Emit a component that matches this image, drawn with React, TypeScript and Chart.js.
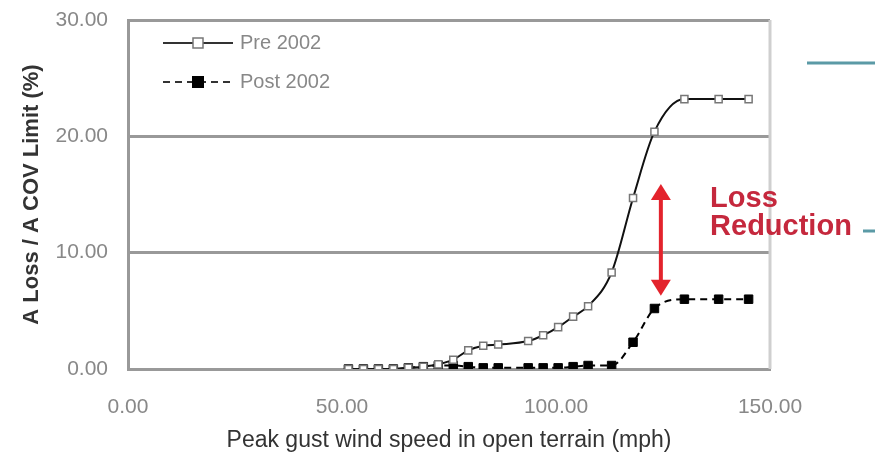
import React, { useEffect, useRef } from "react";
import { Chart, registerables } from "chart.js";

Chart.register(...registerables);

// Peak gust wind speed (mph)
const windSpeeds = [51.5, 55, 58.5, 62, 65.5, 69, 72.5, 76, 79.5, 83, 86.5, 93.5, 97, 100.5, 104, 107.5, 113, 118, 123, 130, 138, 145];
// Δ Loss / Δ COV Limit (%)
const pre2002 = [0, 0, 0, 0, 0.1, 0.2, 0.4, 0.8, 1.6, 2.0, 2.1, 2.4, 2.9, 3.6, 4.5, 5.4, 8.3, 14.7, 20.4, 23.2, 23.2, 23.2];
const post2002 = [0, 0, 0, 0, 0.1, 0.2, 0.3, 0.3, 0.2, 0.1, 0.1, 0.1, 0.1, 0.1, 0.2, 0.3, 0.3, 2.3, 5.2, 6.0, 6.0, 6.0];

const xTicks = [0, 50, 100, 150];
const yTicks = [0, 10, 20, 30];
const seriesNames = ["Pre 2002", "Post 2002"];
const xTitle = "Peak gust wind speed in open terrain (mph)";
const yTitle = "A Loss / A COV Limit (%)";
const noteLines = ["Loss", "Reduction"];
// arrow annotation (data units)
const arrowX = 124.5;
const arrowTop = 15.9;
const arrowBottom = 6.3;
const noteX = 136;
const noteY = [13.9, 11.5];

const FONT = "'Liberation Sans', Arial, sans-serif";

const extras = {
  id: "extras",
  afterDraw(chart: any) {
    const ctx = chart.ctx as CanvasRenderingContext2D;
    const a = chart.chartArea;
    const xs = chart.scales.x;
    const ys = chart.scales.y;
    ctx.save();
    // right border of plot
    ctx.strokeStyle = "#cfcfcf";
    ctx.lineWidth = 3;
    ctx.beginPath();
    ctx.moveTo(a.right, a.top);
    ctx.lineTo(a.right, a.bottom);
    ctx.stroke();

    // legend
    const lx0 = a.left + 35;
    const lx1 = a.left + 105;
    const ly = [a.top + 23, a.top + 62];
    ctx.lineWidth = 2;
    ctx.strokeStyle = "#333";
    ctx.setLineDash([]);
    ctx.beginPath();
    ctx.moveTo(lx0, ly[0]);
    ctx.lineTo(lx1, ly[0]);
    ctx.stroke();
    ctx.setLineDash([7, 5]);
    ctx.beginPath();
    ctx.moveTo(lx0, ly[1]);
    ctx.lineTo(lx1, ly[1]);
    ctx.stroke();
    ctx.setLineDash([]);
    const mx = (lx0 + lx1) / 2;
    ctx.fillStyle = "#fff";
    ctx.fillRect(mx - 5, ly[0] - 5, 10, 10);
    ctx.strokeStyle = "#777";
    ctx.lineWidth = 1.5;
    ctx.strokeRect(mx - 5, ly[0] - 5, 10, 10);
    ctx.fillStyle = "#000";
    ctx.fillRect(mx - 6, ly[1] - 6, 12, 12);
    ctx.fillStyle = "#888";
    ctx.font = `20px ${FONT}`;
    ctx.textBaseline = "middle";
    ctx.textAlign = "left";
    ctx.fillText(seriesNames[0], lx1 + 7, ly[0]);
    ctx.fillText(seriesNames[1], lx1 + 7, ly[1]);

    // red double arrow
    const ax = xs.getPixelForValue(arrowX);
    const at = ys.getPixelForValue(arrowTop);
    const ab = ys.getPixelForValue(arrowBottom);
    ctx.strokeStyle = "#e3232c";
    ctx.fillStyle = "#e3232c";
    ctx.lineWidth = 4;
    ctx.beginPath();
    ctx.moveTo(ax, at + 12);
    ctx.lineTo(ax, ab - 12);
    ctx.stroke();
    ctx.beginPath();
    ctx.moveTo(ax, at);
    ctx.lineTo(ax - 10, at + 16);
    ctx.lineTo(ax + 10, at + 16);
    ctx.closePath();
    ctx.fill();
    ctx.beginPath();
    ctx.moveTo(ax, ab);
    ctx.lineTo(ax - 10, ab - 16);
    ctx.lineTo(ax + 10, ab - 16);
    ctx.closePath();
    ctx.fill();

    // note text
    ctx.fillStyle = "#c5283d";
    ctx.font = `bold 29px ${FONT}`;
    ctx.textBaseline = "alphabetic";
    const nx = xs.getPixelForValue(noteX);
    noteLines.forEach((t, i) => ctx.fillText(t, nx, ys.getPixelForValue(noteY[i])));

    // teal slide lines
    ctx.strokeStyle = "#5b9aa6";
    ctx.lineWidth = 3;
    ctx.beginPath();
    ctx.moveTo(807, 63);
    ctx.lineTo(875, 63);
    ctx.moveTo(863, 231);
    ctx.lineTo(875, 231);
    ctx.stroke();
    ctx.restore();
  },
};

export default function App() {
  const ref = useRef<HTMLCanvasElement | null>(null);
  useEffect(() => {
    if (!ref.current) return;
    const chart = new Chart(ref.current, {
      type: "scatter",
      data: {
        datasets: [
          {
            label: seriesNames[0],
            data: windSpeeds.map((x, i) => ({ x, y: pre2002[i] })),
            showLine: true,
            borderColor: "#111",
            borderWidth: 2,
            tension: 0.4,
            cubicInterpolationMode: "monotone",
            pointStyle: "rect",
            pointRadius: 5,
            pointBackgroundColor: "#fff",
            pointBorderColor: "#777",
            pointBorderWidth: 1.5,
          },
          {
            label: seriesNames[1],
            data: windSpeeds.map((x, i) => ({ x, y: post2002[i] })),
            showLine: true,
            borderColor: "#000",
            borderWidth: 2,
            borderDash: [7, 5],
            tension: 0.4,
            cubicInterpolationMode: "monotone",
            pointStyle: "rect",
            pointRadius: 6,
            pointBackgroundColor: "#000",
            pointBorderColor: "#000",
            pointBorderWidth: 1,
          },
        ],
      } as any,
      options: {
        animation: false,
        responsive: false,
        maintainAspectRatio: false,
        layout: { padding: { top: 20, right: 105, bottom: 0, left: 0 } },
        plugins: { legend: { display: false }, tooltip: { enabled: false } },
        scales: {
          x: {
            type: "linear",
            min: xTicks[0],
            max: xTicks[xTicks.length - 1],
            afterBuildTicks: (s: any) => {
              s.ticks = xTicks.map((v) => ({ value: v }));
            },
            afterFit: (s: any) => {
              s.height = 85;
              s.paddingLeft = 0;
              s.paddingRight = 0;
            },
            ticks: {
              callback: (v: any) => Number(v).toFixed(2),
              color: "#888",
              font: { size: 21, family: FONT },
              padding: 18,
            },
            grid: { display: false },
            border: { display: true, color: "#999", width: 3 },
            title: {
              display: true,
              text: xTitle,
              color: "#333",
              font: { size: 23, family: FONT },
              padding: { top: 6, bottom: 0 },
            },
          },
          y: {
            type: "linear",
            min: yTicks[0],
            max: yTicks[yTicks.length - 1],
            afterBuildTicks: (s: any) => {
              s.ticks = yTicks.map((v) => ({ value: v }));
            },
            afterFit: (s: any) => {
              s.width = 128;
              s.paddingTop = 0;
              s.paddingBottom = 0;
            },
            ticks: {
              callback: (v: any) => Number(v).toFixed(2),
              color: "#888",
              font: { size: 21, family: FONT },
              padding: 20,
            },
            grid: { color: "#999", lineWidth: 3, drawTicks: false },
            border: { display: true, color: "#999", width: 3 },
            title: {
              display: true,
              text: yTitle,
              color: "#333",
              font: { size: 22, family: FONT, weight: "bold" },
              padding: { top: 19, bottom: 4 },
            },
          },
        },
      } as any,
      plugins: [extras],
    });
    return () => chart.destroy();
  }, []);
  return (
    <div style={{ position: "absolute", left: 0, top: 0, width: 875, height: 454, background: "#fff" }}>
      <canvas ref={ref} width={875} height={454} style={{ width: 875, height: 454 }} />
    </div>
  );
}
